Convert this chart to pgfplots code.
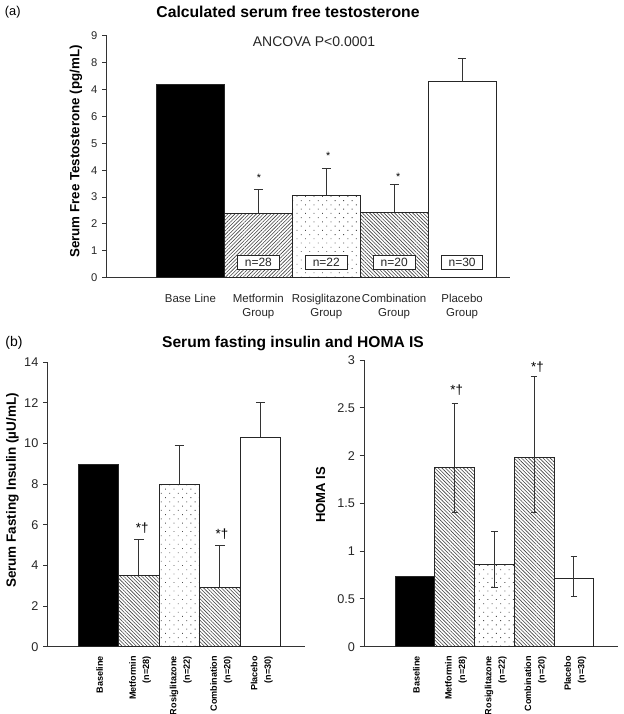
\documentclass[border=0pt]{standalone}
\usepackage{pgfplots}
\pgfplotsset{compat=1.18}
\usetikzlibrary{patterns.meta}
\usepackage{fontspec}
\setmainfont{Liberation Sans}

\tikzset{
  nbox/.style={draw=black!85, line width=0.7pt, fill=white, inner xsep=5.5pt, inner ysep=2pt,
        font=\fontsize{9}{10}\selectfont, text=black!85},
}
\pgfplotsset{
  myaxis/.style={
    scale only axis, anchor=south west,
    axis x line*=bottom, axis y line*=left,
    axis line style={black!80, line width=0.75pt},
    tick align=outside, major tick length=3.5pt,
    ytick style={black!80, line width=0.75pt},
    xtick style={draw=none},
    /pgf/number format/assume math mode=true,
    clip=false,
  },
  mybar/.style={ybar, bar width=1, draw=black!85, line width=0.7pt},
  hatchR/.style={pattern={Lines[angle=45,distance=1.9pt,line width=0.45pt]}, pattern color=black!75},
  hatchL/.style={pattern={Lines[angle=-45,distance=1.9pt,line width=0.45pt]}, pattern color=black!75},
  dotted fill/.style={pattern={Dots[radius=0.45pt,distance=4.5pt,angle=45]}, pattern color=black!70},
  ebp/.style={error bars/.cd, y dir=plus, y explicit,
    error bar style={black!80, line width=0.7pt},
    error mark options={rotate=90, black!80, line width=0.7pt, mark size=#1}},
  ebb/.style={error bars/.cd, y dir=both, y explicit,
    error bar style={black!80, line width=0.7pt},
    error mark options={rotate=90, black!80, line width=0.7pt, mark size=#1}},
}

\begin{document}
\begin{tikzpicture}
\path[use as bounding box] (0,0) rectangle (468pt,-535.5pt);

% ---------------- Panel (a) ----------------
\node[font=\fontsize{9.6}{11}\selectfont] at (9.6pt,-9.4pt) {(a)};
\node[font=\bfseries\fontsize{11.8}{14}\selectfont] at (216pt,-8.8pt) {Calculated serum free testosterone};
\node[font=\fontsize{10.5}{12}\selectfont, text=black!85] at (235.5pt,-31.5pt) {ANCOVA P<0.0001};
\node[font=\bfseries\fontsize{10}{12}\selectfont, rotate=90] at (57pt,-113.6pt) {Serum Free Testosterone (pg/mL)};

\begin{axis}[myaxis,
  at={(80.03pt,-208.28pt)}, width=302.7pt, height=181.5pt,
  xmin=-1.233, xmax=4.71, ymin=0, ymax=9,
  ytick={0,...,9}, yticklabels={0,1,2,3,4,5,6,4,8,9},
  yticklabel style={font=\fontsize{8.4}{10}\selectfont, text=black!85},
  xtick={0,...,4},
  xticklabels={Base Line,{Metformin\\Group},{Rosiglitazone\\Group},{Combination\\Group},{Placebo\\Group}},
  xticklabel style={align=center, anchor=north, yshift=-5pt, font=\fontsize{8.6}{10.5}\selectfont, text=black!85},
]
\addplot[mybar, fill=black] coordinates {(0,7.20)};
\addplot[mybar, hatchR, ebp=3.3pt] coordinates {(1,2.38) +- (0,0.91)};
\addplot[mybar, dotted fill, ebp=3.3pt] coordinates {(2,3.06) +- (0,0.99)};
\addplot[mybar, hatchL, ebp=3.3pt] coordinates {(3,2.43) +- (0,1.04)};
\addplot[mybar, fill=white, ebp=3.3pt] coordinates {(4,7.29) +- (0,0.85)};
\node[nbox] at (axis cs:1,0.58) {n=28};
\node[nbox] at (axis cs:2,0.58) {n=22};
\node[nbox] at (axis cs:3,0.58) {n=20};
\node[nbox] at (axis cs:4,0.58) {n=30};
\node[font=\fontsize{8}{9}\selectfont] at (axis cs:1.01,3.72) {*};
\node[font=\fontsize{8}{9}\selectfont] at (axis cs:2.03,4.54) {*};
\node[font=\fontsize{8}{9}\selectfont] at (axis cs:3.06,3.76) {*};
\end{axis}

% ---------------- Panel (b) ----------------
\node[font=\fontsize{10.5}{12}\selectfont] at (10.5pt,-256.9pt) {(b)};
\node[font=\bfseries\fontsize{11.7}{14}\selectfont] at (219.75pt,-257.25pt) {Serum fasting insulin and HOMA IS};
\node[font=\bfseries\fontsize{10.1}{12}\selectfont, rotate=90] at (9.4pt,-367.9pt) {Serum Fasting Insulin (µU/mL)};
\node[font=\bfseries\fontsize{9.8}{12}\selectfont, rotate=90] at (240.5pt,-371pt) {HOMA IS};

\begin{axis}[myaxis,
  at={(35.78pt,-485.03pt)}, width=193pt, height=213.3pt,
  xmin=-1.25, xmax=5.10, ymin=0, ymax=14,
  ytick={0,2,...,14},
  yticklabel style={font=\fontsize{9.5}{11}\selectfont, text=black!85},
  xtick={0,...,4},
  xticklabels={Baseline,{Metformin\\(n=28)},{Rosiglitazone\\(n=22)},{Combination\\(n=20)},{Placebo\\(n=30)}},
  xticklabel style={rotate=90, anchor=east, align=right, yshift=-1pt, font=\bfseries\fontsize{6.8}{10}\selectfont},
]
\addplot[mybar, fill=black] coordinates {(0,8.95)};
\addplot[mybar, hatchL, ebp=3.5pt] coordinates {(1,3.51) +- (0,1.79)};
\addplot[mybar, dotted fill, ebp=3.5pt] coordinates {(2,8.00) +- (0,1.90)};
\addplot[mybar, hatchL, ebp=3.5pt] coordinates {(3,2.92) +- (0,2.04)};
\addplot[mybar, fill=white, ebp=3.5pt] coordinates {(4,10.32) +- (0,1.69)};
\node[font=\fontsize{10}{11}\selectfont] at (axis cs:1.08,5.83) {*†};
\node[font=\fontsize{10}{11}\selectfont] at (axis cs:3.05,5.55) {*†};
\end{axis}

\begin{axis}[myaxis,
  at={(273.23pt,-485.03pt)}, width=190.3pt, height=215pt,
  xmin=-1.275, xmax=5.11, ymin=0, ymax=3,
  ytick={0,0.5,1,1.5,2,2.5,3}, yticklabels={0,0.5,1,1.5,2,2.5,3},
  yticklabel style={font=\fontsize{9.5}{11}\selectfont, text=black!85},
  xtick={0,...,4},
  xticklabels={Baseline,{Metformin\\(n=28)},{Rosiglitazone\\(n=22)},{Combination\\(n=20)},{Placebo\\(n=30)}},
  xticklabel style={rotate=90, anchor=east, align=right, yshift=-1pt, font=\bfseries\fontsize{6.8}{10}\selectfont},
]
\addplot[mybar, fill=black] coordinates {(0,0.74)};
\addplot[mybar, hatchL, ebb=2.4pt] coordinates {(1,1.88) += (0,0.67) -= (0,0.48)};
\addplot[mybar, dotted fill, ebb=2.4pt] coordinates {(2,0.86) += (0,0.35) -= (0,0.245)};
\addplot[mybar, hatchL, ebb=2.4pt] coordinates {(3,1.98) += (0,0.845) -= (0,0.58)};
\addplot[mybar, fill=white, ebb=2.4pt] coordinates {(4,0.71) += (0,0.23) -= (0,0.18)};
\node[font=\fontsize{10}{11}\selectfont] at (axis cs:1.05,2.685) {*†};
\node[font=\fontsize{10}{11}\selectfont] at (axis cs:3.08,2.93) {*†};
\end{axis}
\end{tikzpicture}
\end{document}
